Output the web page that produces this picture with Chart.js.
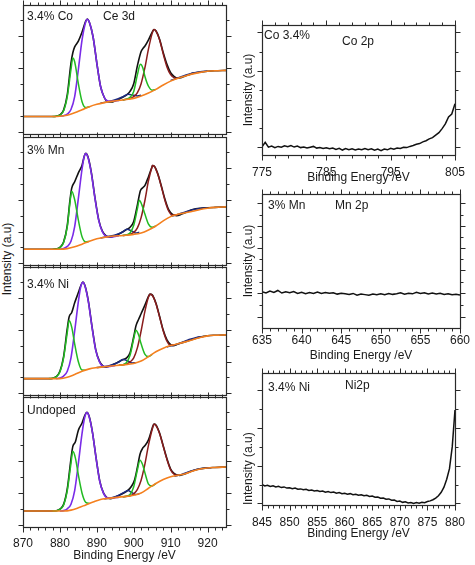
<!DOCTYPE html>
<html><head><meta charset="utf-8">
<script src="https://cdn.jsdelivr.net/npm/chart.js@4/dist/chart.umd.min.js"></script>
<style>
html,body{margin:0;padding:0;background:#fff;}
#wrap{position:relative;width:475px;height:565px;overflow:hidden;background:#fff;}
canvas{position:absolute;}
#ylab{position:absolute;font:12px "Liberation Sans",Arial,sans-serif;color:#1a1a1a;white-space:nowrap;}
</style></head><body><div id="wrap"><div id="ylab">Intensity (a.u)</div></div>
<script>
// ---------- tick labels ----------
const ceTickLabels = [870, 880, 890, 900, 910, 920];
const coTickLabels = [775, 785, 795, 805];
const mnTickLabels = [635, 640, 645, 650, 655, 660];
const niTickLabels = [845, 850, 855, 860, 865, 870, 875, 880];
const ceYTicks = [1.3, 13.7, 26.1, 38.5, 50.9, 63.3, 75.7, 88.1];
const coYTicks = [5.9, 20.5, 35.4, 50, 64.9, 79.5, 94.4];
const mnYTicks = [8.5, 17.2, 25.9, 34.6, 43.3, 51.2, 59.5, 68.2, 76.1, 84.3, 93];
const niYTicks = [1.3, 15.2, 29.9, 44.3, 58.7, 72.9, 87.3];

// ---------- Ce 3d : 3.4% Co ----------
const coCe_bg = [[870,13.6],[878,13.6],[880,13.8],[882,14.6],[884,16.4],[886,18.8],[888,21.2],[890,23],[892,24.3],[894,25.3],[897,26.4],[900,27.6],[902,29.4],[904,31.8],[906,34.6],[908,38],[910,41],[912,43.2],[914,45],[916,46.6],[918,47.8],[920,48.6],[922,49],[925,49.3]];
const coCe_g1 = [[878,13.6],[879,13.8],[880,14.6],[881,18],[882,29],[883,50],[883.5,59],[884,56],[885,39],[886,25],[887,20.5],[888,21.2]];
const coCe_p1 = [[880,13.8],[881,14.2],[882,15.5],[883,19],[884,29],[885,50],[886,73],[887,87],[887.4,89],[888,86.5],[889,75],[890,55],[891,37],[892,28.5],[893,25.5],[894,25.4],[896,26]];
const coCe_g2 = [[897,26.4],[898,27],[899,28.5],[900,33],[901,46],[901.8,54],[902.5,51],[903,45],[904,37],[905,34],[906,34.6]];
const coCe_r = [[897,26.4],[899,27.5],[900,29],[901,32],[902,39],[903,51],[904,66],[905,78],[905.5,81],[906,80],[907,73],[908,62],[909,52],[910,46],[911,43.5],[912,43.2]];
const coCe_n1 = [[891,24],[893,25],[895,26.5],[897,28.8],[898.5,30.8],[900,30],[901,29.5],[902,30]];
const coCe_n2 = [[910,41.5],[912,43.5],[914,45.5],[916,47.3],[918,48.3],[920,48.8]];
const coCe_env = [[870,13.6],[878,13.6],[879,13.8],[880,14.8],[881,18.5],[882,30.5],[883,55],[883.5,63],[884,67.5],[885,72],[886,79],[887,87.5],[887.4,89.2],[888,86.5],[889,75],[890,55],[891,37],[892,28.5],[893,25],[894,24.8],[895,25.8],[896,27],[897,28.5],[898,30.2],[899,33],[900,39],[901,53],[902,64],[902.6,66.7],[903,68],[904,73],[905,79],[905.5,81],[906,80],[907,73.5],[908,63],[909,54],[910,47.5],[911,44.5],[912,43.2],[913,43.8],[914,45],[915,46],[916,47],[918,48],[920,48.6],[922,49],[925,49.3]];

// ---------- Ce 3d : 3% Mn ----------
const mnCe_bg = [[870,12.3],[880,12.3],[882,12.8],[884,14.2],[886,16.3],[888,18.6],[890,20.5],[892,21.6],[894,22.4],[897,23.1],[900,23.9],[902,25],[904,27.4],[906,30.5],[908,34.5],[910,37.8],[912,39.6],[914,40.8],[916,42],[918,43.4],[920,44.4],[922,45],[925,45.4]];
const mnCe_g1 = [[878,12.3],[879,12.5],[880,13.6],[881,17.5],[882,30],[882.7,48],[883.2,57.7],[884,51],[885,35],[886,22],[887,18],[888,18.6]];
const mnCe_p1 = [[880,12.3],[881,12.8],[882,14.5],[883,18.5],[884,30],[885,52],[886,75],[886.6,85],[887,87],[887.6,84],[888.5,72],[889.5,52],[890.5,35],[891.5,26],[892.5,22.5],[894,22],[896,22.8]];
const mnCe_g2 = [[897,23.1],[898,23.5],[899,25],[900,31],[901,44],[901.5,50.5],[902.2,47],[903,40],[904,32],[905,29.5],[906,30.5]];
const mnCe_r = [[897,23.1],[899,24],[900,25.5],[901,29],[902,37],[903,50],[904,66],[905,77],[905.1,77.7],[905.6,77],[906.5,71],[907.5,61],[908.5,50],[909.5,42],[910.5,39],[911.5,39],[912,39.6]];
const mnCe_n1 = [[891,21],[893,22.3],[895,23.5],[897,25.8],[898.1,28],[899.5,26.5],[900.5,25],[901.5,25.5]];
const mnCe_n2 = [[910,38],[912,39.5],[914,41.5],[916,43.2],[918,44.2],[920,44.6]];
const mnCe_env = [[870,12.3],[878,12.3],[879,12.6],[880,13.8],[881,18],[882,31],[882.7,50],[883.2,60],[884,65],[885,72],[886,78],[886.6,85],[887,87.2],[887.6,84.5],[888.5,72.5],[889.5,52.5],[890.5,35.5],[891.5,26.5],[892.5,22.8],[893.6,21.8],[895,23],[896.5,25],[898.1,27.8],[899,29.5],[900,34],[901,47],[901.8,58],[902.5,60.5],[903,62],[904,69],[905,77],[905.1,77.7],[905.6,77.2],[906.5,71.5],[907.5,61.5],[908.5,51],[909.5,43],[910.5,39.5],[911.6,38.5],[913,39.8],[914.5,41.6],[916,43.3],[918,44.3],[920,44.7],[922,45],[925,45.4]];

// ---------- Ce 3d : 3.4% Ni ----------
const niCe_bg = [[870,12.8],[880,12.8],[882,13.8],[884,16],[886,18.5],[888,20.4],[890,21.4],[892,22.1],[894,22.7],[897,23.5],[900,24.6],[902,26.5],[904,30],[906,33.8],[908,36.6],[910,38.6],[912,40],[914,41.5],[916,43.2],[918,45],[920,46.2],[922,46.7],[925,47]];
const niCe_g1 = [[877,12.8],[878,13],[879,14.2],[880,18],[881,29],[882,49],[882.5,58.2],[883.2,53],[884,40],[885,26],[886,19.5],[887,19.4]];
const niCe_p1 = [[879,12.8],[880,13.2],[881,14.8],[882,18.5],[883,29],[884,50],[885,73],[885.6,84],[886.2,88],[886.8,85],[887.7,73],[888.7,53],[889.7,35],[890.7,26],[891.7,22.5],[893,22.2],[895,23]];
const niCe_g2 = [[896,23.3],[897,23.7],[898,25.2],[899,31],[900,44],[900.6,50.5],[901.3,47],[902,40],[903,32],[904,30],[905,31.8]];
const niCe_r = [[896,23.3],[898,24.2],[899,25.8],[900,29],[901,37],[902,50],[903,65],[904,76.5],[904.4,78.7],[905,78],[906,71.5],[907,61],[908,50],[909,42],[910,38.8],[911,39.2]];
const niCe_n1 = [[890,21.4],[892,22.1],[894,23.5],[896,25.8],[897,27.7],[898.5,26.5],[899.5,25],[900.5,25.2]];
const niCe_n2 = [[909,37.5],[911,39],[913,41],[915,43.3],[917,45],[919,45.8]];
const niCe_env = [[870,12.8],[877,12.8],[878,13],[879,14.3],[880,18.5],[881,30],[882,52],[882.5,61],[883.2,64.5],[884,72],[885,80],[885.6,85],[886.2,88.3],[886.8,85.3],[887.7,73.5],[888.7,53.5],[889.7,35.5],[890.7,26.5],[891.7,22.5],[892.5,21.8],[894,23.3],[895.5,25.3],[897,27.5],[898,28.8],[899,33],[900,45.5],[900.6,54],[901.3,59],[902,63.5],[903,70],[904,77],[904.4,78.8],[905,78.2],[906,71.8],[907,61.5],[908,50.5],[909,43],[910,39.3],[910.7,38.5],[912,39.8],[914,41.7],[916,43.5],[918,45.2],[920,46.3],[922,46.7],[925,47]];

// ---------- Ce 3d : Undoped ----------
const udCe_bg = [[870,12.3],[881,12.3],[883,13],[885,14.8],[887,17],[889,19.2],[891,21.2],[893,22],[896,23],[900,24.4],[902,26.2],[904,29.8],[906,33.5],[908,36.5],[910,38.6],[912,39.8],[914,41],[916,43],[918,44.6],[920,45.4],[922,45.8],[925,46.2]];
const udCe_g1 = [[878,12.3],[879,12.5],[880,13.5],[881,17],[882,28],[883,49],[883.5,58.2],[884.2,53],[885,40],[886,26],[887,19],[888,18.2]];
const udCe_p1 = [[880,12.3],[881,12.6],[882,14],[883,17.5],[884,28],[885,49],[886,72],[886.7,84],[887.3,88],[887.9,85],[888.8,73],[889.8,53],[890.8,35],[891.8,26],[892.8,22.5],[894,22.2],[896,23]];
const udCe_g2 = [[897,23.2],[898,23.6],[899,25],[900,31],[901,44],[901.7,51.3],[902.4,48],[903,42],[904,33],[905,31.5],[906,33.5]];
const udCe_r = [[897,23.2],[899,24],[900,25.5],[901,29],[902,36],[903,48],[904,63],[905,75],[905.5,79],[906,78.2],[907,72],[908,62],[909,52],[910,44],[911,40.5],[912,39.8]];
const udCe_n1 = [[892,21.7],[894,22.5],[896,24.5],[897.5,26.8],[898.4,28],[899.5,26.5],[900.5,25],[901.5,25.5]];
const udCe_n2 = [[911,39],[913,40.5],[915,42.5],[917,44.2],[919,45.2],[921,45.6]];
const udCe_env = [[870,12.3],[878,12.3],[879,12.5],[880,13.7],[881,17.4],[882,29.5],[883,52.5],[883.5,62],[884.2,65.5],[885,74.5],[886,80],[886.7,85.5],[887.3,88.3],[887.9,85.3],[888.8,73.2],[889.8,53.2],[890.8,35.3],[891.8,26.3],[892.8,22.5],[893.6,21.8],[895,23],[896.5,25],[898.4,28.2],[899.3,31],[900.2,36],[901,46],[901.7,56],[902.5,61],[903,62.5],[904,67],[905,76],[905.5,79.2],[906,78.5],[907,72.3],[908,62.3],[909,52.5],[910,44.5],[911,41],[912.5,39.7],[914,41],[916,43.2],[918,44.8],[920,45.5],[922,45.8],[925,46.2]];

// ---------- Co 2p ----------
const coEnergy = [775,775.5,776,776.5,777,777.5,778,778.5,779,779.5,780,780.5,781,781.5,782,782.5,783,783.5,784,784.5,785,785.5,786,786.5,787,787.5,788,788.5,789,789.5,790,790.5,791,791.5,792,792.5,793,793.5,794,794.5,795,795.5,796,796.5,797,797.5,798,798.5,799,799.5,800,800.5,801,801.5,802,802.5,803,803.5,804,804.5,805];
const coIntensity = [6.2,9.8,6.0,6.8,5.6,6.6,6.0,7.0,6.3,7.2,6.1,6.9,5.7,6.2,5.4,6.0,6.6,5.3,5.8,5.0,5.6,4.9,5.4,4.3,5.1,3.8,4.9,4.1,4.7,3.9,4.6,4.0,5.0,4.1,4.7,3.7,4.5,3.4,4.6,4.0,5.2,4.5,5.4,5.0,6.0,5.7,6.6,7.3,8.2,8.8,10.1,11.0,12.4,13.4,15.3,17.2,20.3,23.9,29.2,31.5,39.5];

// ---------- Mn 2p ----------
const mnEnergy = [635,635.5,636,636.5,637,637.5,638,638.5,639,639.5,640,640.5,641,641.5,642,642.5,643,643.5,644,644.5,645,645.5,646,646.5,647,647.5,648,648.5,649,649.5,650,650.5,651,651.5,652,652.5,653,653.5,654,654.5,655,655.5,656,656.5,657,657.5,658,658.5,659,659.5,660];
const mnIntensity = [27.0,26.2,27.6,26.5,28.0,26.1,27.0,26.3,27.2,25.8,26.7,25.6,26.4,25.8,26.9,25.7,26.4,25.9,26.3,25.3,26.0,25.5,25.0,25.8,24.5,25.4,24.9,24.4,25.3,24.8,25.6,24.8,25.7,25.1,25.5,26.2,25.2,25.9,25.5,26.6,25.7,26.3,25.4,26.1,25.3,25.9,25.0,25.6,24.8,25.2,24.6];

// ---------- Ni 2p ----------
const niEnergy = [845,845.5,846,846.5,847,847.5,848,848.5,849,849.5,850,850.5,851,851.5,852,852.5,853,853.5,854,854.5,855,855.5,856,856.5,857,857.5,858,858.5,859,859.5,860,860.5,861,861.5,862,862.5,863,863.5,864,864.5,865,865.5,866,866.5,867,867.5,868,868.5,869,869.5,870,870.5,871,871.5,872,872.5,873,873.5,874,874.5,875,875.5,876,876.5,877,877.5,878,878.5,879,879.5,880];
const niIntensity = [15.6,14.4,15.0,14.0,14.5,13.6,14.1,13.2,13.7,12.8,13.0,12.3,12.8,11.9,12.2,11.5,11.9,11.0,11.4,10.6,10.9,10.2,10.6,9.7,10.2,9.4,9.8,8.9,9.4,8.5,8.9,8.2,8.6,7.8,8.2,7.4,7.8,7.0,7.3,6.5,6.8,5.9,6.1,5.2,5.3,4.4,4.6,3.6,3.7,2.7,3.0,2.0,2.4,1.5,1.9,1.1,1.8,1.4,2.1,1.8,2.6,3.1,4.0,5.2,7.0,9.6,13.5,19.5,27.5,44,72];

// ---------- styling ----------
const FONT = {family: '"Liberation Sans", Arial, Helvetica, sans-serif', size: 12};
const TXT = '#1a1a1a';
const C = {env:'#111111', g:'#22bb22', p:'#7a2be8', r:'#8a1c1c', n:'#1c2b80', bg:'#f4801f'};

const frameTicks = {
  id: 'frameTicks',
  afterDatasetsDraw(chart, args, o) {
    const {ctx, chartArea: a, scales} = chart;
    const xs = scales.x, ys = scales.y;
    ctx.save();
    ctx.strokeStyle = '#2a2a2a';
    ctx.lineWidth = 1.2;
    const L = Math.round(a.left) + 0.5, R = Math.round(a.right) + 0.5, T = Math.round(a.top) + 0.5, B = Math.round(a.bottom) + 0.5;
    ctx.strokeRect(L, T, R - L, B - T);
    ctx.lineWidth = 1;
    ctx.beginPath();
    o.xTicks.forEach(t => {
      const px = Math.round(xs.getPixelForValue(t.v)) + 0.5;
      const len = t.major ? 5 : 3;
      ctx.moveTo(px, B); ctx.lineTo(px, B + len);
      ctx.moveTo(px, T); ctx.lineTo(px, T - len);
    });
    o.yTicks.forEach((v, i) => {
      const py = Math.round(ys.getPixelForValue(v)) + 0.5;
      const len = (i % 2 === 0) ? 5 : 3;
      ctx.moveTo(L, py); ctx.lineTo(L - len, py);
      ctx.moveTo(R, py); ctx.lineTo(R + len, py);
    });
    ctx.stroke();
    ctx.fillStyle = TXT;
    ctx.font = '12px "Liberation Sans", Arial, sans-serif';
    ctx.textBaseline = 'middle';
    ctx.textAlign = 'left';
    o.labels.forEach(l => ctx.fillText(l.t, l.x - o.ox, l.y - o.oy));
    ctx.restore();
  }
};

function minorTicks(min, max, minor, major) {
  const out = [];
  for (let v = min; v <= max + 1e-9; v += minor) {
    out.push({v: v, major: Math.abs(((v - min) / major) - Math.round((v - min) / major)) < 1e-6});
  }
  return out;
}

function line(pairs, color, w) {
  return {data: pairs.map(p => ({x: p[0], y: p[1]})), borderColor: color, borderWidth: w,
          pointRadius: 0, showLine: true, fill: false, cubicInterpolationMode: 'monotone'};
}
function trace(xs, ys) {
  return {data: xs.map((x, i) => ({x: x, y: ys[i]})), borderColor: '#111', borderWidth: 1.5,
          pointRadius: 0, showLine: true, fill: false, tension: 0};
}

function makeChart(cfg) {
  const cv = document.createElement('canvas');
  cv.width = cfg.w; cv.height = cfg.h;
  cv.style.left = cfg.left + 'px'; cv.style.top = cfg.top + 'px';
  cv.style.width = cfg.w + 'px'; cv.style.height = cfg.h + 'px';
  document.getElementById('wrap').appendChild(cv);
  const p = cfg.plot;
  new Chart(cv, {
    type: 'scatter',
    data: {datasets: cfg.datasets},
    plugins: [frameTicks],
    options: {
      responsive: false, animation: false, devicePixelRatio: 1,
      layout: {padding: {top: p.t - cfg.top, right: cfg.left + cfg.w - p.r, left: 0, bottom: 0}},
      plugins: {legend: {display: false}, tooltip: {enabled: false},
        frameTicks: {xTicks: cfg.xTicks, yTicks: cfg.yTicks, labels: cfg.labels, ox: cfg.left, oy: cfg.top}},
      scales: {
        x: {type: 'linear', position: 'bottom', min: cfg.xMin, max: cfg.xMax,
          grid: {display: false, drawTicks: false}, border: {display: false},
          ticks: {display: cfg.showX, font: FONT, color: TXT, padding: cfg.xPad, maxRotation: 0, autoSkip: false},
          afterBuildTicks: s => { s.ticks = cfg.xLabels.map(v => ({value: v})); },
          title: {display: !!cfg.xTitle, text: cfg.xTitle || '', font: FONT, color: TXT, padding: {top: 0, bottom: 2}},
          afterFit: s => { s.height = cfg.top + cfg.h - p.b; }},
        y: {type: 'linear', position: 'left', min: 0, max: 100,
          grid: {display: false, drawTicks: false}, border: {display: false},
          ticks: {display: false},
          title: {display: !!cfg.yTitle, text: cfg.yTitle || '', font: FONT, color: TXT, padding: {top: 6, bottom: 0}, align: cfg.yAlign || 'center'},
          afterFit: s => { s.width = p.l - cfg.left; }}
      }
    }
  });
}

function ceSet(bg, g1, p1, g2, r, n1, n2, env) {
  return [line(bg, C.bg, 1.6), line(g1, C.g, 1.5), line(g2, C.g, 1.5), line(p1, C.p, 1.6),
          line(r, C.r, 1.5), line(n1, C.n, 1.5), line(n2, C.n, 1.5), line(env, C.env, 1.6)];
}

const ceXTicks = minorTicks(870, 924, 2, 10);
const panels = [
  {t: 5, b: 134, data: ceSet(coCe_bg, coCe_g1, coCe_p1, coCe_g2, coCe_r, coCe_n1, coCe_n2, coCe_env),
   labels: [{t: '3.4% Co', x: 27, y: 17}, {t: 'Ce 3d', x: 103, y: 17}]},
  {t: 137, b: 265, data: ceSet(mnCe_bg, mnCe_g1, mnCe_p1, mnCe_g2, mnCe_r, mnCe_n1, mnCe_n2, mnCe_env),
   labels: [{t: '3% Mn', x: 27, y: 151}]},
  {t: 267, b: 395, data: ceSet(niCe_bg, niCe_g1, niCe_p1, niCe_g2, niCe_r, niCe_n1, niCe_n2, niCe_env),
   labels: [{t: '3.4% Ni', x: 27, y: 285}]},
  {t: 397, b: 527, data: ceSet(udCe_bg, udCe_g1, udCe_p1, udCe_g2, udCe_r, udCe_n1, udCe_n2, udCe_env),
   labels: [{t: 'Undoped', x: 27, y: 411}]}
];
panels.forEach((pn, i) => {
  const last = i === panels.length - 1;
  const top = pn.t - 5;
  const h = last ? 565 - top : (pn.b + 4 - top);
  makeChart({left: 0, top: top, w: 240, h: h, plot: {l: 23, r: 226, t: pn.t, b: pn.b},
    xMin: 870, xMax: 925, xLabels: ceTickLabels, showX: last, xPad: 9,
    xTitle: last ? 'Binding Energy /eV' : null, yTitle: null,
    xTicks: ceXTicks, yTicks: ceYTicks, labels: pn.labels, datasets: pn.data});
});

makeChart({left: 235, top: 0, w: 240, h: 187, plot: {l: 262, r: 462, t: 25, b: 155},
  xMin: 775, xMax: 805, xLabels: coTickLabels, showX: true, xPad: 10,
  xTitle: 'Binding Energy /eV', yTitle: 'Intensity (a.u)',
  xTicks: minorTicks(775, 805, 2, 10), yTicks: coYTicks,
  labels: [{t: 'Co 3.4%', x: 264, y: 36}, {t: 'Co 2p', x: 342, y: 42}],
  datasets: [trace(coEnergy, coIntensity)]});

makeChart({left: 235, top: 189, w: 240, h: 176, plot: {l: 262, r: 464, t: 194, b: 328},
  xMin: 635, xMax: 660, xLabels: mnTickLabels, showX: true, xPad: 5,
  xTitle: 'Binding Energy /eV', yTitle: 'Intensity (a.u)',
  xTicks: minorTicks(635, 660, 1, 5), yTicks: mnYTicks,
  labels: [{t: '3% Mn', x: 268, y: 206}, {t: 'Mn 2p', x: 335, y: 206}],
  datasets: [trace(mnEnergy, mnIntensity)]});

makeChart({left: 235, top: 368, w: 240, h: 175, plot: {l: 262, r: 463, t: 373, b: 505},
  xMin: 845, xMax: 880, xLabels: niTickLabels, showX: true, xPad: 10,
  xTitle: 'Binding Energy /eV', yTitle: 'Intensity (a.u)', yAlign: 'start',
  xTicks: minorTicks(845, 880, 1, 5), yTicks: niYTicks,
  labels: [{t: '3.4% Ni', x: 268, y: 388}, {t: 'Ni2p', x: 345, y: 386}],
  datasets: [trace(niEnergy, niIntensity)]});

// shared left axis title
const yl = document.getElementById('ylab');
const w = yl.offsetWidth, hh = yl.offsetHeight;
yl.style.left = (7.5 - w / 2) + 'px';
yl.style.top = (259 - hh / 2) + 'px';
yl.style.transform = 'rotate(-90deg)';
</script>
</body></html>
